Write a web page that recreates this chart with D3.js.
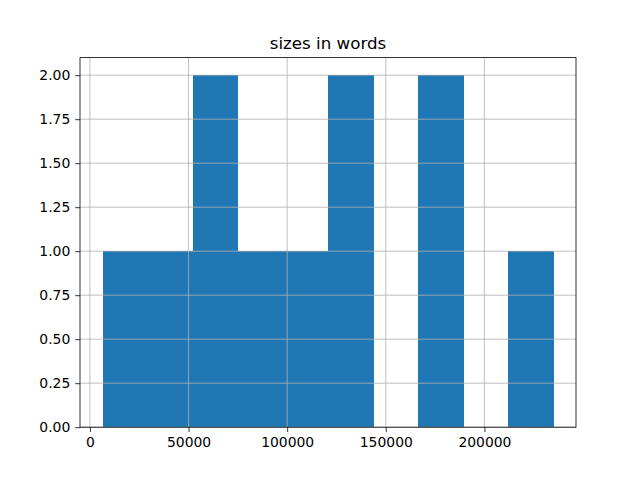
<!DOCTYPE html>
<html><head><meta charset="utf-8">
<script src="https://cdn.jsdelivr.net/npm/d3@7/dist/d3.min.js"></script>
<style>body{margin:0;background:#fff}svg{display:block}text{font-family:"DejaVu Sans",sans-serif;fill:#000}</style>
</head><body>
<svg id="c" width="640" height="480"></svg>
<script>
// Histogram: 10 equal bins between dataMin and dataMax
const dataMin = 6400;
const dataMax = 235000;
const counts = [1, 1, 2, 1, 1, 2, 0, 2, 0, 1];
const xTicks = [0, 50000, 100000, 150000, 200000];
const yTicks = [0, 0.25, 0.5, 0.75, 1.0, 1.25, 1.5, 1.75, 2.0];
const title = "sizes in words";

const W = 640, H = 480;
const L = 80, R = 576, T = 57.6, B = 427.2;
const svg = d3.select("#c");

const pad = (dataMax - dataMin) * 0.05;
const x = d3.scaleLinear().domain([dataMin - pad, dataMax + pad]).range([L, R]);
const y = d3.scaleLinear().domain([0, 2.1]).range([B, T]);
const binW = (dataMax - dataMin) / counts.length;
const bins = counts.map((c, i) => ({x0: dataMin + i * binW, x1: dataMin + (i + 1) * binW, c}));

svg.append("g").attr("shape-rendering", "crispEdges")
  .selectAll("rect").data(bins.filter(b => b.c > 0)).join("rect")
  .attr("x", d => x(d.x0)).attr("width", d => x(d.x1) - x(d.x0) + 0.5)
  .attr("y", d => y(d.c)).attr("height", d => y(0) - y(d.c))
  .attr("fill", "#1f77b4");

// grid (above bars, as matplotlib)
const g = svg.append("g").attr("stroke", "#b0b0b0").attr("stroke-width", 0.8);
g.selectAll(".vx").data(xTicks).join("line")
  .attr("x1", d => x(d)).attr("x2", d => x(d)).attr("y1", T).attr("y2", B);
g.selectAll(".hy").data(yTicks).join("line")
  .attr("y1", d => y(d)).attr("y2", d => y(d)).attr("x1", L).attr("x2", R);

// axes
const tickLen = 4.86;
const xAxis = d3.axisBottom(x).tickValues(xTicks).tickFormat(d3.format("d")).tickSize(tickLen).tickPadding(4.86);
const yAxis = d3.axisLeft(y).tickValues(yTicks).tickFormat(d3.format(".2f")).tickSize(tickLen).tickPadding(4.86);
const ax = svg.append("g").attr("transform", `translate(0,${B})`).call(xAxis);
const ay = svg.append("g").attr("transform", `translate(${L},0)`).call(yAxis);
[ax, ay].forEach(a => {
  a.select(".domain").remove();
  a.selectAll(".tick line").attr("stroke", "#000").attr("stroke-width", 0.8);
  a.selectAll(".tick text").attr("font-size", "13.9px").attr("font-family", "DejaVu Sans").attr("fill", "#000");
});

svg.append("rect").attr("x", L).attr("y", T).attr("width", R - L).attr("height", B - T)
  .attr("fill", "none").attr("stroke", "#000").attr("stroke-width", 0.8);

svg.append("text").attr("x", (L + R) / 2).attr("y", T - 8.5).attr("text-anchor", "middle")
  .attr("font-size", "16.7px").text(title);
</script>
</body></html>
